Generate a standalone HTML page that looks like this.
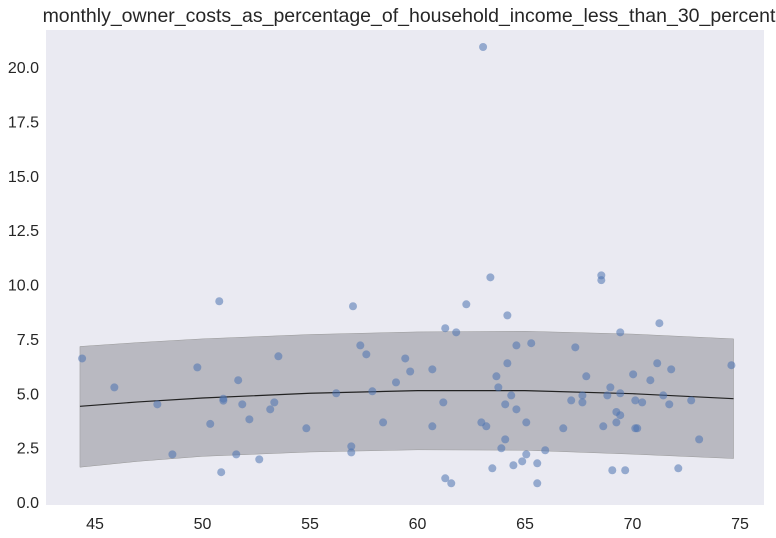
<!DOCTYPE html>
<html><head><meta charset="utf-8">
<style>
html,body{margin:0;padding:0;background:#fff;}
svg{display:block;font-family:"Liberation Sans",sans-serif;}
</style></head>
<body>
<svg id="chart" width="776" height="538">
<rect x="46" y="30" width="718" height="475" fill="#eaeaf2"/>
<text x="409" y="22" text-anchor="middle" font-size="19.5" fill="#262626">monthly_owner_costs_as_percentage_of_household_income_less_than_30_percent</text>
<g id="band"></g><g id="line"></g><g id="pts"></g><g id="xt"></g><g id="yt"></g>
</svg>
<script>
const xVals=[44.4,45.9,47.9,48.6,49.76,50.36,50.78,50.87,50.97,50.97,51.57,51.66,51.85,52.18,52.64,53.15,53.34,53.53,54.83,56.22,56.92,56.92,57.0,57.34,57.62,57.9,58.4,59.0,59.43,59.66,60.69,60.69,61.2,61.29,61.29,61.57,61.8,62.27,62.97,63.2,63.39,63.48,63.67,63.76,63.9,64.08,64.08,64.18,64.18,64.36,64.46,64.6,64.6,64.87,65.06,65.06,65.29,65.57,65.57,65.94,66.78,67.15,67.34,67.67,67.67,67.85,68.55,68.55,68.64,68.83,68.97,69.06,69.25,69.25,69.43,69.43,69.43,69.66,70.03,70.13,70.13,70.22,70.45,70.83,71.15,71.25,71.43,71.71,71.8,72.13,72.73,73.1,74.6,63.05];
const yVals=[6.6,5.27,4.49,2.19,6.19,3.59,9.23,1.37,4.75,4.66,2.19,5.6,4.49,3.8,1.96,4.26,4.58,6.7,3.39,5.0,2.56,2.28,9.0,7.2,6.79,5.09,3.66,5.5,6.6,6.0,6.1,3.48,4.58,7.99,1.09,0.86,7.8,9.09,3.66,3.48,10.33,1.55,5.78,5.27,2.47,2.88,4.49,8.58,6.38,4.9,1.69,7.2,4.26,1.87,3.66,2.19,7.3,1.78,0.86,2.38,3.39,4.67,7.11,4.9,4.58,5.78,10.42,10.2,3.48,4.9,5.27,1.46,4.14,3.66,7.8,5.0,3.99,1.46,5.87,4.67,3.39,3.39,4.58,5.6,6.38,8.22,4.9,4.49,6.1,1.55,4.67,2.88,6.29,20.92];
const fitX=[44.3,47,50,55,60,65,70,74.7];
const fitMean=[4.4,4.6,4.78,5.0,5.12,5.12,4.98,4.75];
const fitUpper=[7.15,7.33,7.5,7.7,7.82,7.85,7.72,7.5];
const fitLower=[1.6,1.87,2.1,2.3,2.4,2.38,2.2,2.0];
const xTicks=[45,50,55,60,65,70,75];
const yTicks=[0.0,2.5,5.0,7.5,10.0,12.5,15.0,17.5,20.0];
const NS="http://www.w3.org/2000/svg";
const sx=v=>95+(v-45)*21.5;
const sy=v=>502-v*21.75;
function mk(t,a,p){const e=document.createElementNS(NS,t);for(const k in a)e.setAttribute(k,a[k]);document.getElementById(p).appendChild(e);return e;}
let d="M"+fitX.map((x,i)=>sx(x)+","+sy(fitUpper[i])).join("L");
for(let i=fitX.length-1;i>=0;i--)d+="L"+sx(fitX[i])+","+sy(fitLower[i]);
const b=mk("path",{d:d+"Z",fill:"#888890","fill-opacity":"0.5",stroke:"#999","stroke-width":"0.5"},"band");


const l=mk("path",{d:"M"+fitX.map((x,i)=>sx(x)+","+sy(fitMean[i])).join("L"),fill:"none",stroke:"#222",'stroke-width':"1.2"},"line");


xVals.forEach((x,i)=>{const c=mk("circle",{cx:sx(x),cy:sy(yVals[i]),r:4,fill:"#4c72b0","fill-opacity":"0.55"},"pts");

});
xTicks.forEach(t=>{const e=mk("text",{x:sx(t),y:529,"text-anchor":"middle","font-size":"16",fill:"#262626"},"xt");e.textContent=t;

});
yTicks.forEach(t=>{const e=mk("text",{x:39,y:sy(t)+6,"text-anchor":"end","font-size":"16",fill:"#262626"},"yt");e.textContent=t.toFixed(1);

});
</script>
</body></html>
